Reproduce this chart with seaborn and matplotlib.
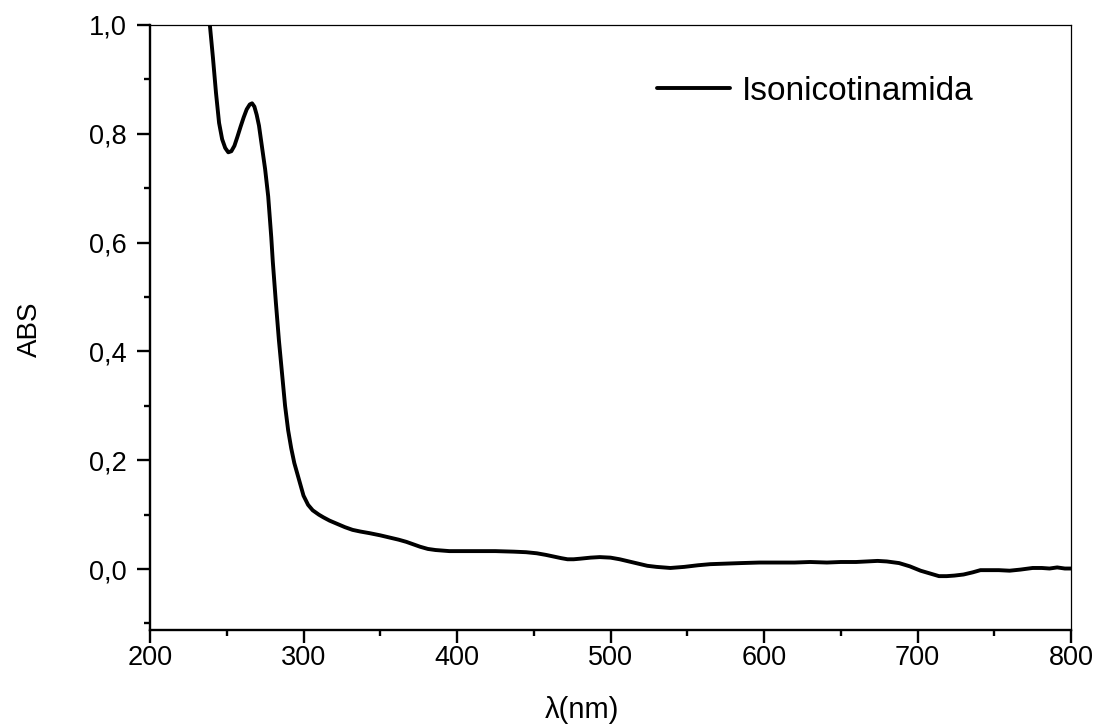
import matplotlib
matplotlib.use("Agg")
import matplotlib.pyplot as plt
import seaborn as sns
import pandas as pd
from matplotlib.ticker import MultipleLocator, FuncFormatter

wavelength = [237, 239, 241, 243, 245, 247, 249, 251, 253, 255, 257, 259, 261, 263, 265,
              266.5, 268, 269.5, 271, 273, 275, 277, 279, 280, 282, 284, 286, 288, 290,
              292, 294, 296, 298, 300, 303, 306, 310, 313, 317, 322, 327, 332, 337, 343,
              350, 356, 362, 367, 372, 376, 381, 386, 395, 410, 425, 437, 445, 452, 458,
              463, 468, 472, 476, 480, 487, 493, 500, 506, 512, 518, 524, 530, 539, 548,
              557, 565, 575, 585, 597, 610, 620, 630, 641, 650, 660, 667, 674, 680, 688,
              695, 702, 708, 714, 719, 724, 730, 736, 741, 747, 753, 760, 767, 775, 781,
              786, 791, 796, 800]
absorbance = [1.05, 1.00, 0.94, 0.875, 0.82, 0.79, 0.774, 0.766, 0.768, 0.778, 0.795, 0.813,
              0.830, 0.845, 0.854, 0.856, 0.850, 0.835, 0.815, 0.775, 0.735, 0.685, 0.61,
              0.565, 0.49, 0.42, 0.36, 0.30, 0.255, 0.222, 0.195, 0.175, 0.155, 0.135, 0.118,
              0.108, 0.100, 0.095, 0.089, 0.083, 0.077, 0.072, 0.069, 0.066, 0.062, 0.058,
              0.054, 0.050, 0.045, 0.041, 0.037, 0.035, 0.033, 0.033, 0.033, 0.032, 0.031,
              0.029, 0.026, 0.023, 0.020, 0.018, 0.018, 0.019, 0.021, 0.022, 0.021, 0.018,
              0.014, 0.010, 0.006, 0.004, 0.002, 0.004, 0.007, 0.009, 0.010, 0.011, 0.012,
              0.012, 0.012, 0.013, 0.012, 0.013, 0.013, 0.014, 0.015, 0.014, 0.011, 0.005,
              -0.003, -0.008, -0.013, -0.013, -0.012, -0.010, -0.006, -0.002, -0.002, -0.002,
              -0.003, -0.001, 0.002, 0.002, 0.001, 0.003, 0.001, 0.001]
series_name = "Isonicotinamida"
x_label = "λ(nm)"
y_label = "ABS"

df = pd.DataFrame({"wl": wavelength, "abs": absorbance, "s": series_name})

sns.set_style("ticks")
plt.rcParams["font.family"] = ["Liberation Sans", "DejaVu Sans"]
plt.rcParams["text.color"] = "black"
plt.rcParams["axes.labelcolor"] = "black"

fig = plt.figure(figsize=(10.98, 7.24), dpi=100)
ax = fig.add_axes([150/1098, 1-630/724, 921/1098, 605/724])

sns.lineplot(data=df, x="wl", y="abs", hue="s", palette=["black"], linewidth=2.8,
             ax=ax, sort=False, estimator=None)

ax.set_xlim(200, 800)
ax.set_ylim(-0.112, 1.0)
ax.xaxis.set_major_locator(MultipleLocator(100))
ax.xaxis.set_minor_locator(MultipleLocator(50))
ax.yaxis.set_major_locator(MultipleLocator(0.2))
ax.yaxis.set_minor_locator(MultipleLocator(0.1))
ax.yaxis.set_major_formatter(FuncFormatter(lambda v, p: f"{v:.1f}".replace(".", ",").replace("-0,0", "0,0")))

ax.tick_params(axis="both", which="major", direction="out", length=9.5, width=1.7,
               labelsize=19.5, color="black", labelcolor="black")
ax.tick_params(axis="both", which="minor", direction="out", length=4.5, width=1.7, color="black")
ax.tick_params(top=False, right=False, which="both")
ax.tick_params(axis="x", pad=1.0)
ax.tick_params(axis="y", pad=7.0)

for side in ["left", "bottom"]:
    ax.spines[side].set_linewidth(1.7)
    ax.spines[side].set_color("black")
for side in ["top", "right"]:
    ax.spines[side].set_visible(True)
    ax.spines[side].set_linewidth(0.9)
    ax.spines[side].set_color("black")

ax.set_xlabel(x_label, fontsize=21, va="center")
ax.xaxis.set_label_coords((582 - 150) / 921, (630 - 710) / 605)
ax.set_ylabel(y_label, fontsize=20, va="center")
ax.yaxis.set_label_coords((30 - 150) / 921, (630 - 329) / 605)

leg = ax.legend(loc="center left", bbox_to_anchor=((657 - 150) / 921, (630 - 91) / 605),
                frameon=False, fontsize=24, handlelength=2.2, handletextpad=0.36,
                borderaxespad=0, borderpad=0)
for line in leg.get_lines():
    line.set_linewidth(2.8)

fig.savefig("out.png", dpi=100)
